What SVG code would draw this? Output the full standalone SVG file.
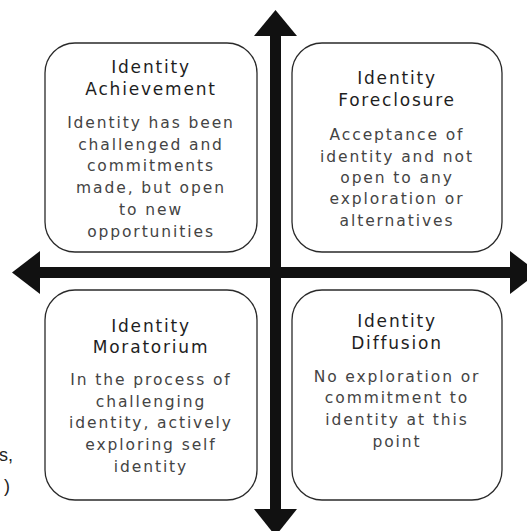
<svg xmlns="http://www.w3.org/2000/svg" width="527" height="531" viewBox="0 0 527 531">
  <style>
    .box { fill: #ffffff; stroke: #2a2a2a; stroke-width: 1.3; }
    .title { font-family: "DejaVu Sans", "Liberation Sans", sans-serif; font-size: 17px; letter-spacing: 1.8px; fill: #1e1e1e; text-anchor: middle; }
    .body { font-family: "DejaVu Sans", "Liberation Sans", sans-serif; font-size: 15.5px; letter-spacing: 1.9px; fill: #444444; text-anchor: middle; }
    .axis { fill: #111111; }
    .edge { font-family: "Liberation Sans", Arial, sans-serif; font-size: 18px; fill: #222222; text-anchor: end; }
  </style>

  <rect width="527" height="531" fill="#ffffff"/>

  <!-- two crossing axes with arrowheads at each end -->
  <g id="connectors">
    <rect class="axis" x="270" y="30" width="11" height="485"/>
    <rect class="axis" x="35" y="267" width="480" height="11"/>
    <polygon class="axis" points="254,36 275.5,10 297,36"/>
    <polygon class="axis" points="254,509 275.5,536 297,509"/>
    <polygon class="axis" points="40,251 12,272.5 40,294"/>
    <polygon class="axis" points="510,251 538,272.5 510,294"/>
  </g>

  <g id="achievement">
    <rect class="box" x="45" y="43" width="212" height="209" rx="30" ry="30"/>
    <text class="title" x="151" y="73">Identity</text>
    <text class="title" x="151" y="95">Achievement</text>
    <text class="body" x="151" y="128">Identity has been</text>
    <text class="body" x="151" y="150">challenged and</text>
    <text class="body" x="151" y="171">commitments</text>
    <text class="body" x="151" y="193">made, but open</text>
    <text class="body" x="151" y="215">to new</text>
    <text class="body" x="151" y="237">opportunities</text>
  </g>

  <g id="foreclosure">
    <rect class="box" x="292" y="43" width="210" height="209" rx="30" ry="30"/>
    <text class="title" x="397" y="84">Identity</text>
    <text class="title" x="397" y="106">Foreclosure</text>
    <text class="body" x="397" y="140">Acceptance of</text>
    <text class="body" x="397" y="162">identity and not</text>
    <text class="body" x="397" y="183">open to any</text>
    <text class="body" x="397" y="204">exploration or</text>
    <text class="body" x="397" y="226">alternatives</text>
  </g>

  <g id="moratorium">
    <rect class="box" x="45" y="290" width="212" height="210" rx="30" ry="30"/>
    <text class="title" x="151" y="332">Identity</text>
    <text class="title" x="151" y="353">Moratorium</text>
    <text class="body" x="151" y="385">In the process of</text>
    <text class="body" x="151" y="407">challenging</text>
    <text class="body" x="151" y="428">identity, actively</text>
    <text class="body" x="151" y="450">exploring self</text>
    <text class="body" x="151" y="472">identity</text>
  </g>

  <g id="diffusion">
    <rect class="box" x="292" y="290" width="210" height="210" rx="30" ry="30"/>
    <text class="title" x="397" y="327">Identity</text>
    <text class="title" x="397" y="349">Diffusion</text>
    <text class="body" x="397" y="382">No exploration or</text>
    <text class="body" x="397" y="403">commitment to</text>
    <text class="body" x="397" y="425">identity at this</text>
    <text class="body" x="397" y="447">point</text>
  </g>

  <!-- trailing punctuation at the left margin -->
  <text class="edge" x="13" y="461">s,</text>
  <text class="edge" x="10" y="492">)</text>
</svg>
